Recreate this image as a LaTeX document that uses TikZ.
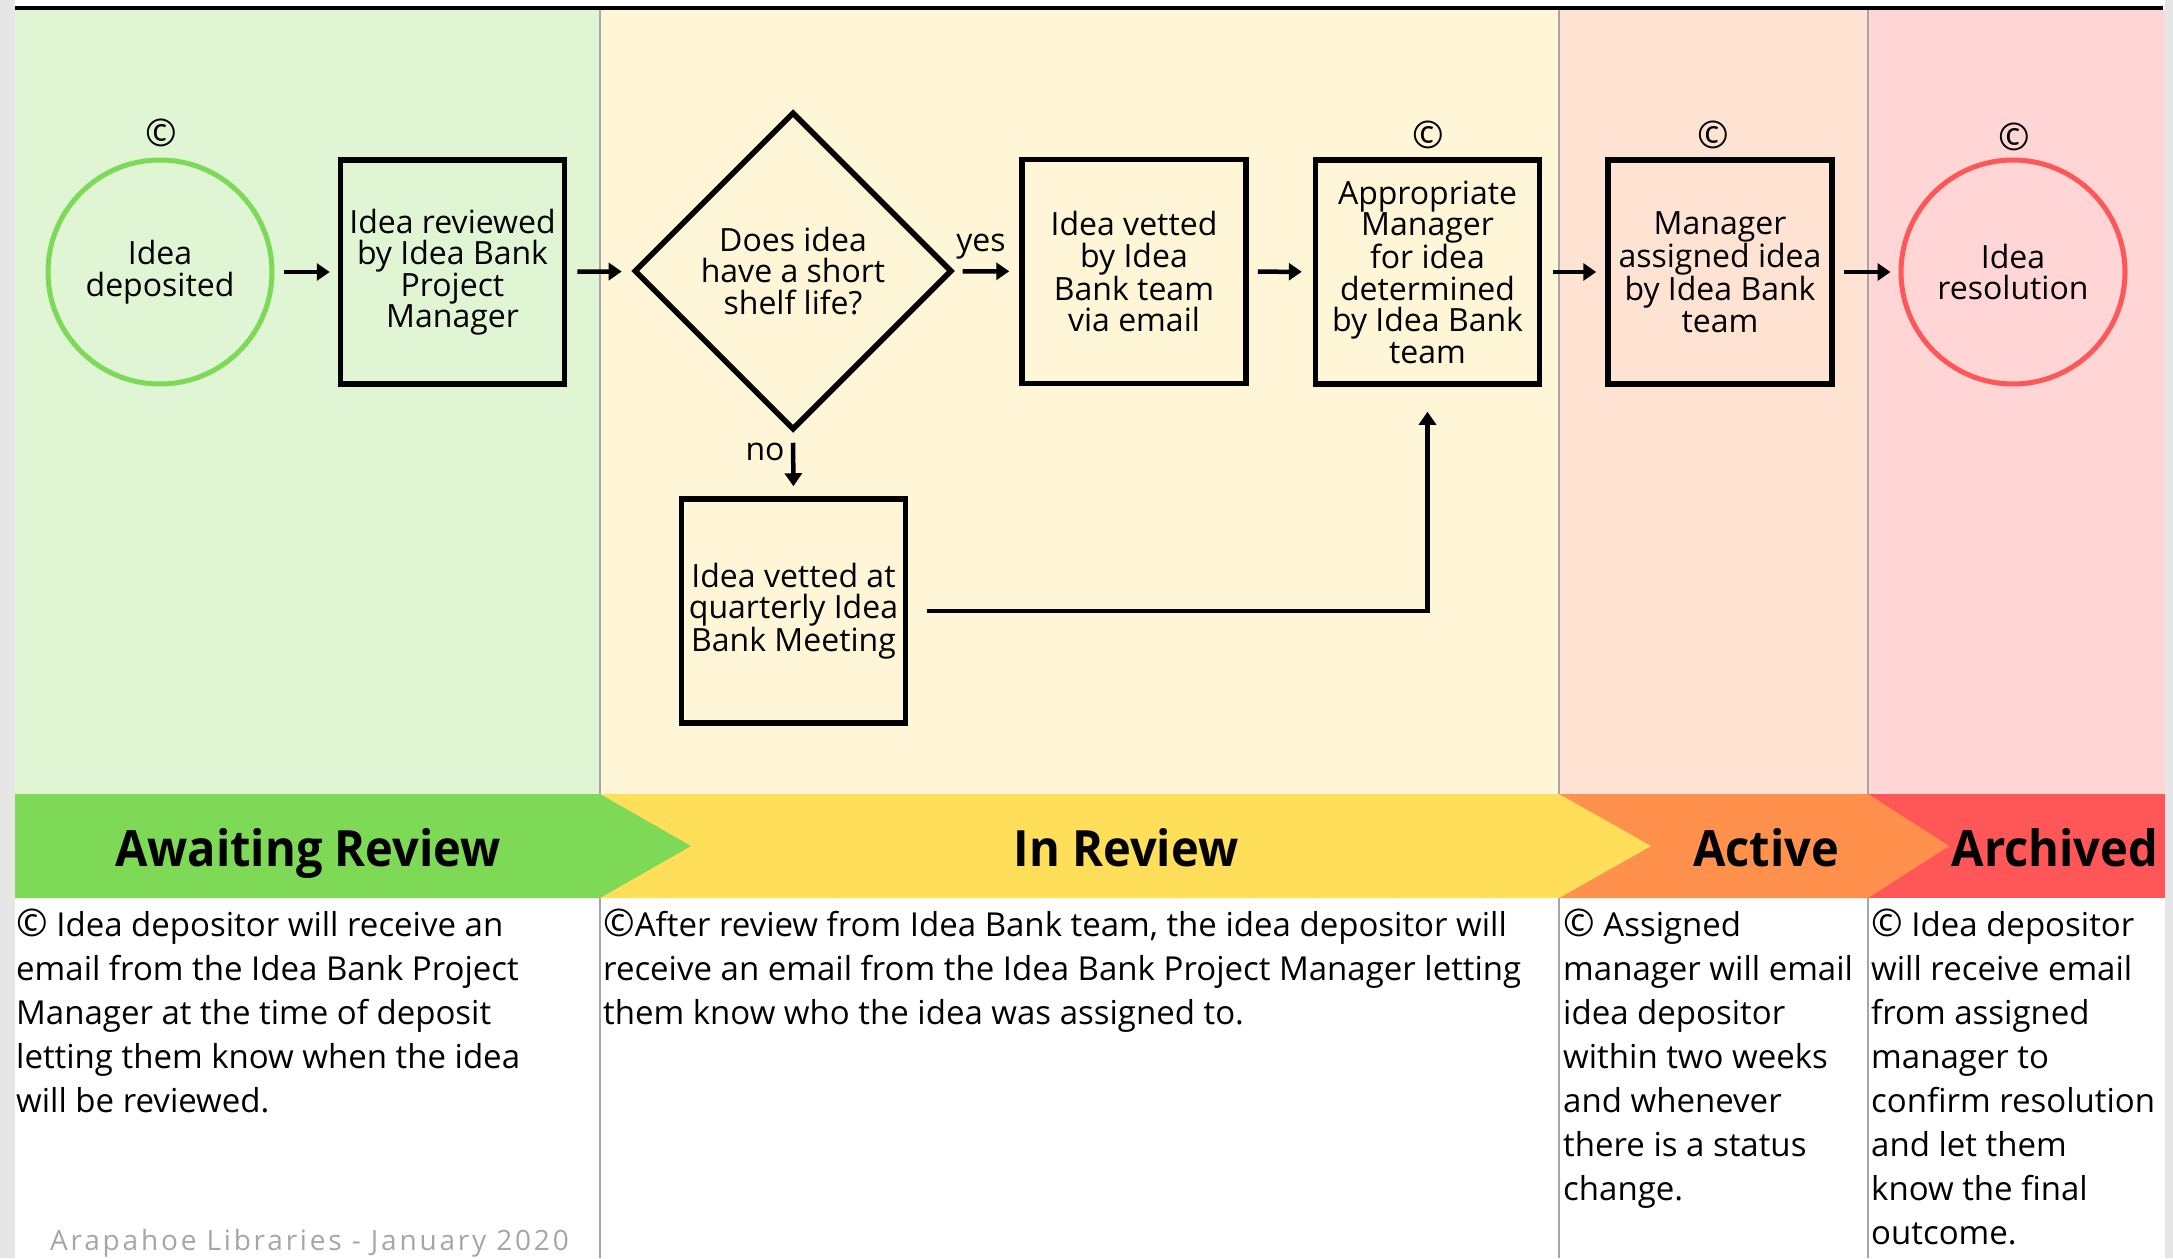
\documentclass[tikz,border=0pt]{standalone}
\usepackage{fontspec}
\setmainfont{Open Sans}
\newfontfamily\bannerfont{Open Sans}[FakeStretch=0.94]
\newfontfamily\footfont{Open Sans}[LetterSpace=10]
\usetikzlibrary{shapes.geometric,arrows.meta}
\definecolor{lanegreen}{HTML}{DFF5D4}
\definecolor{laneyellow}{HTML}{FFF6D7}
\definecolor{lanepeach}{HTML}{FFE3D2}
\definecolor{lanepink}{HTML}{FFD5D5}
\definecolor{bgreen}{HTML}{7ED957}
\definecolor{byellow}{HTML}{FFDE59}
\definecolor{borange}{HTML}{FF914D}
\definecolor{bred}{HTML}{FF5757}
\definecolor{divgrey}{HTML}{A6A6A6}
\definecolor{stripgrey}{HTML}{E6E6E6}
\definecolor{footgrey}{HTML}{A6A6A6}
\newcommand\nodefont{\fontsize{32pt}{31.5pt}\selectfont}
\newcommand\bodyfont{\fontsize{33pt}{44pt}\selectfont}
\newcommand\cpy{{\fontsize{38pt}{38pt}\selectfont ©}}
\tikzset{
  boxnode/.style={draw=black, line width=5.5pt, minimum width=224pt, minimum height=224pt, inner sep=0pt, align=center, font=\nodefont},
  termnode/.style={circle, line width=5pt, minimum size=224pt, inner sep=0pt, align=center, font=\nodefont},
  decision/.style={diamond, draw=black, line width=5.5pt, minimum width=318pt, minimum height=318pt, inner sep=0pt, aspect=1, align=center, font=\nodefont},
  flowarrow/.style={-{Triangle[length=13pt,width=17pt]}, line width=4.5pt},
  copymark/.style={font=\fontsize{38pt}{38pt}\selectfont, inner sep=0pt},
  flowlabel/.style={font=\nodefont, inner sep=0pt},
  bannertext/.style={font=\fontsize{50pt}{50pt}\bannerfont\bfseries, inner sep=0pt, anchor=base},
  bodytext/.style={font=\bodyfont, inner sep=0pt, anchor=north west, align=left},
  divider/.style={draw=divgrey, line width=2pt}
}
\begin{document}
\begin{tikzpicture}[x=1pt,y=-1pt]
\useasboundingbox (0,0) rectangle (2173,1258);
% background
\fill[white] (0,0) rectangle (2173,1258);
\fill[stripgrey] (0,0) rectangle (15,1258);
\fill[stripgrey] (2165,0) rectangle (2173,1258);
% lanes
\fill[lanegreen] (15,10) rectangle (600,794);
\fill[laneyellow] (600,10) rectangle (1559,794);
\fill[lanepeach] (1559,10) rectangle (1868,794);
\fill[lanepink] (1868,10) rectangle (2165,794);
\draw[line width=4pt] (15,8) -- (2163,8);
\draw[divider] (600,10) -- (600,1258);
\draw[divider] (1559,10) -- (1559,1258);
\draw[divider] (1868,10) -- (1868,1258);
% banner
\fill[bred] (1868,794) -- (2165,794) -- (2165,898) -- (1868,898) -- cycle;
\fill[borange] (1559,794) -- (1868,794) -- (1949,846) -- (1868,898) -- (1559,898) -- cycle;
\fill[byellow] (600,794) -- (1559,794) -- (1651,846) -- (1559,898) -- (600,898) -- cycle;
\fill[bgreen] (15,794) -- (600,794) -- (691,846) -- (600,898) -- (15,898) -- cycle;
\node[bannertext] (tAwait) at (308,866) {Awaiting Review};
\node[bannertext] (tReview) at (1126,866) {In Review};
\node[bannertext] (tActive) at (1766,866) {Active};
\node[bannertext] (tArch) at (2055,866) {Archived};
% flow nodes
\node[termnode, draw=bgreen] (C1) at (160,272) {Idea\\deposited};
\node[boxnode] (B1) at (452.5,272) {Idea reviewed\\by Idea Bank\\Project\\Manager};
\node[decision] (D) at (793,271) {Does idea\\have a short\\shelf life?};
\node[boxnode] (B2) at (1134,271.5) {Idea vetted\\by Idea\\Bank team\\via email};
\node[boxnode] (B3) at (1427.5,272) {Appropriate\\Manager\\for idea\\determined\\by Idea Bank\\team};
\node[boxnode] (B4) at (1720,272) {Manager\\assigned idea\\by Idea Bank\\team};
\node[termnode, draw=bred] (C2) at (2013,272) {Idea\\resolution};
\node[boxnode] (B5) at (793.5,611) {Idea vetted at\\quarterly Idea\\Bank Meeting};
% copyright marks
\node[copymark] (m1) at (161,133) {©};
\node[copymark] (m2) at (1428,135) {©};
\node[copymark] (m3) at (1713,135) {©};
\node[copymark] (m4) at (2014,137) {©};
% connectors
\draw[flowarrow, shorten <=9pt, shorten >=8pt] (C1) -- (B1);
\draw[flowarrow, shorten <=10pt, shorten >=10pt] (B1) -- (D);
\draw[flowarrow, shorten <=8pt, shorten >=10pt] (D) -- (B2);
\draw[flowarrow, shorten <=9pt, shorten >=11pt] (B2) -- (B3);
\draw[flowarrow, shorten <=11pt, shorten >=9pt] (B3) -- (B4);
\draw[flowarrow, shorten <=9pt, shorten >=8pt] (B4) -- (C2);
\draw[flowarrow, shorten <=10pt, shorten >=10pt] (D.south) -- (B5.north);
\draw[flowarrow, shorten <=19pt, shorten >=25pt] (B5.east) -| (B3.south);
\node[flowlabel] (lyes) at (981,247) {yes};
\node[flowlabel] (lno) at (765,452) {no};
% descriptions
\node[bodytext] (d1) at (16,909) {\cpy{} Idea depositor will receive an\\email from the Idea Bank Project\\Manager at the time of deposit\\letting them know when the idea\\will be reviewed.};
\node[bodytext] (d2) at (603,909) {\cpy After review from Idea Bank team, the idea depositor will\\receive an email from the Idea Bank Project Manager letting\\them know who the idea was assigned to.};
\node[bodytext] (d3) at (1563,909) {\cpy{} Assigned\\manager will email\\idea depositor\\within two weeks\\and whenever\\there is a status\\change.};
\node[bodytext] (d4) at (1871,909) {\cpy{} Idea depositor\\will receive email\\from assigned\\manager to\\confirm resolution\\and let them\\know the final\\outcome.};
\node[font=\fontsize{28pt}{28pt}\footfont, text=footgrey, inner sep=0pt, anchor=base west] (foot) at (50,1250) {Arapahoe Libraries - January 2020};
\end{tikzpicture}
\end{document}
